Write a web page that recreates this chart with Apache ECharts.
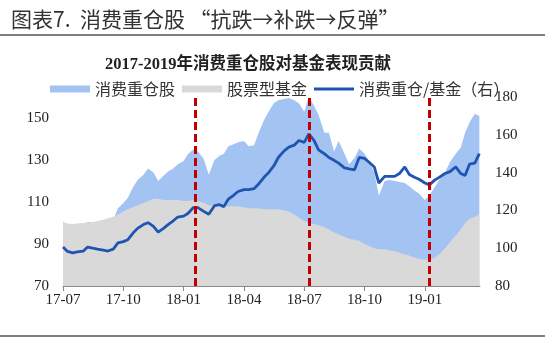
<!DOCTYPE html>
<html><head><meta charset="utf-8">
<script src="https://cdn.jsdelivr.net/npm/echarts@6/dist/echarts.min.js"></script>
<style>html,body{margin:0;padding:0;background:#fff}#c{width:550px;height:357px}</style>
</head><body><div id="c"></div>
<script>
const dates = [
'2017-07-01','2017-07-08','2017-07-16','2017-07-23',
'2017-08-01','2017-08-08','2017-08-16','2017-08-23',
'2017-09-01','2017-09-08','2017-09-16','2017-09-23',
'2017-10-01','2017-10-08','2017-10-16','2017-10-23',
'2017-11-01','2017-11-08','2017-11-16','2017-11-23',
'2017-12-01','2017-12-08','2017-12-16','2017-12-23',
'2018-01-01','2018-01-08','2018-01-16','2018-01-23',
'2018-02-01','2018-02-08','2018-02-16','2018-02-23',
'2018-03-01','2018-03-08','2018-03-16','2018-03-23',
'2018-04-01','2018-04-08','2018-04-16','2018-04-23',
'2018-05-01','2018-05-08','2018-05-16','2018-05-23',
'2018-06-01','2018-06-08','2018-06-16','2018-06-23',
'2018-07-01','2018-07-08','2018-07-16','2018-07-23',
'2018-08-01','2018-08-08','2018-08-16','2018-08-23',
'2018-09-01','2018-09-08','2018-09-16','2018-09-23',
'2018-10-01','2018-10-08','2018-10-16','2018-10-23',
'2018-11-01','2018-11-08','2018-11-16','2018-11-23',
'2018-12-01','2018-12-08','2018-12-16','2018-12-23',
'2019-01-01','2019-01-08','2019-01-16','2019-01-23',
'2019-02-01','2019-02-08','2019-02-16','2019-02-23',
'2019-03-01','2019-03-08','2019-03-16','2019-03-23'
];
// 消费重仓股 (left axis)
const consumer = [
100.5, 98.5, 97.5, 98,
98.5, 100.5, 100.5, 100.5,
100.5, 100.6, 101.5, 107,
109.5, 112, 117, 120.5,
123, 126, 124, 120,
122.5, 124.5, 126, 128,
129.5, 133, 135, 134,
130.5, 123, 130, 132,
133, 136.5, 137.5, 138.5,
139, 136.5, 137, 143,
149, 153, 157, 158.5,
159, 159.5, 158.5, 157,
153, 160, 156, 151.5,
143, 143, 134, 139,
133, 128, 131, 135.5,
133, 129, 124, 113,
120, 120.5, 120, 119.5,
119, 117.5, 115.5, 114,
111, 113, 117, 120.5,
124, 129, 133, 136,
143, 148, 152, 151
];
// 股票型基金 (left axis)
const fund = [
100.5, 99.8, 99.5, 99.8,
100, 100.2, 100.5, 101,
101.5, 102.3, 103, 104,
105.5, 106.5, 107.5, 108.5,
109.5, 110.5, 111.5, 111.5,
111, 111, 111, 111,
110.5, 110.5, 111, 110.5,
109.5, 108.5, 108, 108,
108, 108, 108, 108,
107.5, 107, 107, 107,
106.5, 106.5, 106.5, 106.5,
106, 105.5, 104, 102.5,
101, 100, 99.5, 99,
98, 97, 95.5, 94.5,
93.5, 92.5, 92, 91.5,
90, 89, 88, 87.5,
87.5, 87, 86.5, 86,
85, 84.5, 83.5, 83,
82.5, 82.5, 83.5, 85,
88, 91, 94, 97,
100, 102, 103, 104
];
// 消费重仓/基金 (right axis)
const ratio = [
100.6, 98.3, 97.5, 98,
98.4, 100.6, 100, 99.5,
99, 98.5, 99.5, 102.8,
103.5, 104.5, 108, 110.5,
112.5, 113.5, 111.5, 108.5,
110.5, 112.5, 114.5, 116.5,
117, 118.5, 121.5, 121.5,
119.5, 118, 122.5, 123,
122, 126, 128, 130,
131, 131, 131.5, 134,
137.5, 140, 143.5, 148,
151.5, 153.5, 154.5, 157,
156, 160.5, 157, 152,
150, 148, 146.5, 145,
142.5, 142, 141.5, 148,
147.5, 145.5, 143, 134.5,
138, 138, 138, 139.5,
143, 139, 137.5, 136.5,
134.5, 133.5, 136, 137.5,
139.5, 140.5, 143, 139.5,
138.5, 144.5, 145, 150
];
const xTickLabels = ['17-07','17-10','18-01','18-04','18-07','18-10','19-01'];
const eventDates = ['2018-01-19','2018-07-08','2019-01-08'];
const seriesNames = ['消费重仓股','股票型基金','消费重仓/基金（右）'];

function toMonth(s){
  const p = s.split('-').map(Number);
  const dim = new Date(p[0], p[1], 0).getDate();
  return (p[0]-2017)*12 + (p[1]-7) + (p[2]-1)/dim;
}
const xs = dates.map(toMonth);
const pair = arr => arr.map((v,i)=>[xs[i], v]);
const xMax = toMonth('2019-03-24');
const serif = 'Liberation Serif, Times New Roman, serif';
const cjk = 'Noto Sans CJK SC, sans-serif';

const chart = echarts.init(document.getElementById('c'));
chart.setOption({
  animation: false,
  backgroundColor: '#fff',
  title: [
    {text: '图表7.  消费重仓股 “抗跌→补跌→反弹”', left: 6, top: 4,
     textStyle: {fontSize: 21, fontWeight: 'normal', color: '#333', fontFamily: cjk}},
    {text: '2017-2019年消费重仓股对基金表现贡献', left: 100, top: 51,
     textStyle: {fontSize: 16.5, fontWeight: 'bold', color: '#222', fontFamily: 'Liberation Serif, Noto Sans CJK SC'}}
  ],
  graphic: [
    {type: 'line', shape: {x1: 0, y1: 35, x2: 545, y2: 35}, style: {stroke: '#555', lineWidth: 1.5}},
    {type: 'line', shape: {x1: 0, y1: 336, x2: 545, y2: 336}, style: {stroke: '#555', lineWidth: 1.5}}
  ],
  legend: {
    left: 45, top: 76, itemWidth: 40, itemHeight: 7, itemGap: 7,
    textStyle: {fontSize: 16, color: '#333', fontFamily: cjk},
    data: [
      {name: seriesNames[0], icon: 'rect'},
      {name: seriesNames[1], icon: 'rect'},
      {name: seriesNames[2], icon: 'path://M0,0 L40,0 L40,3 L0,3 Z'}
    ]
  },
  grid: {left: 63, right: 70, top: 97, bottom: 71},
  xAxis: {
    type: 'value', min: 0, max: xMax, interval: 3,
    axisLine: {lineStyle: {color: '#888', width: 1}},
    axisTick: {length: 5, lineStyle: {color: '#888'}},
    splitLine: {show: false},
    axisLabel: {
      showMaxLabel: false, fontSize: 15, color: '#222', fontFamily: serif, margin: 7,
      formatter: v => (Math.abs(v % 3) < 1e-6 && xTickLabels[Math.round(v/3)]) || ''
    }
  },
  yAxis: [
    {type: 'value', min: 70, max: 160, interval: 20, splitLine: {show: false},
     axisLine: {show: false}, axisTick: {show: false},
     axisLabel: {showMaxLabel: false, fontSize: 15, color: '#222', fontFamily: serif, margin: 14}},
    {type: 'value', min: 80, max: 180, interval: 20, splitLine: {show: false},
     axisLine: {show: false}, axisTick: {show: false},
     axisLabel: {fontSize: 15, color: '#222', fontFamily: serif, margin: 15}}
  ],
  series: [
    {name: seriesNames[0], type: 'line', data: pair(consumer), symbol: 'none',
     lineStyle: {width: 0}, itemStyle: {color: '#a3c3f3'}, areaStyle: {color: '#a3c3f3', opacity: 1}},
    {name: seriesNames[1], type: 'line', data: pair(fund), symbol: 'none',
     lineStyle: {width: 0}, itemStyle: {color: '#d9d9d9'}, areaStyle: {color: '#d9d9d9', opacity: 1}},
    {name: seriesNames[2], type: 'line', yAxisIndex: 1, data: pair(ratio), symbol: 'none',
     symbolKeepAspect: true,
     lineStyle: {width: 2.8, color: '#1f55b0'}, itemStyle: {color: '#1f55b0'},
     markLine: {silent: true, symbol: 'none', label: {show: false},
       lineStyle: {color: '#c00000', type: [8, 4], width: 3},
       data: eventDates.map(d => ({xAxis: toMonth(d)}))}}
  ]
});
</script></body></html>
